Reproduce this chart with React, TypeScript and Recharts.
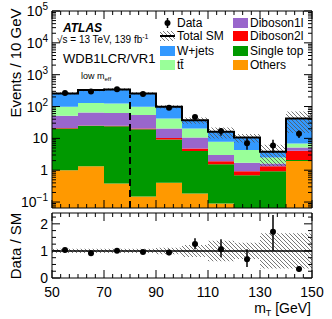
import { ComposedChart, Area, Line, Scatter, ErrorBar, XAxis, YAxis, ReferenceLine } from 'recharts';

// bins of m_T [GeV]
const binEdges = [50, 60, 70, 80, 90, 100, 110, 120, 130, 140, 150];
const binCenters = [55, 65, 75, 85, 95, 105, 115, 125, 135, 145];

// background processes, stacked bottom -> top
const others = [1.0, 1.34, 0.38, 0.15, 0.4, 0.185, 0.09, 0.04, 0.03, 1.95];
const singleTop = [19.5, 23.4, 23.6, 19.35, 8.8, 3.8, 1.46, 0.66, 0.9, 0.15];
const diboson2l = [0.8, 0.8, 1.0, 1.0, 1.1, 0.8, 0.35, 0.23, 0.41, 1.95];
const diboson1l = [29.7, 39.5, 38, 33.5, 10.2, 5.8, 1.1, 0.77, 0.28, 1.15];
const ttbar = [47, 65, 62, 44, 21.5, 9.9, 4.8, 2.6, 0.88, 1.7];
const wjets = [160, 198, 220, 160, 56, 16.5, 8.2, 6.3, 1.3, 35.1];
const sysUnc = [0.08, 0.08, 0.08, 0.08, 0.12, 0.22, 0.38, 0.3, 0.65, 0.65];

// data
const dataCounts = [266, 298, 348, 248, 92, 47, 17, 7, 6, 14];
const dataErrLow = [16, 17, 19, 16, 10, 7, 5, 2.6, 2.5, 3.7];
const dataErrHigh = [16, 17, 19, 16, 10, 7, 4, 3, 3, 3.7];
const ratio = [1.03, 0.91, 1.01, 0.96, 0.94, 1.26, 1.06, 0.69, 1.71, 0.33];
const ratioErrLow = [0.06, 0.06, 0.06, 0.06, 0.1, 0.2, 0.29, 0.28, 0.7, 0.1];
const ratioErrHigh = [0.06, 0.06, 0.06, 0.06, 0.1, 0.21, 0.37, 0.37, 0.62, 0.1];

const layers = [
  { key: 'others', name: 'Others', color: '#ff9900', values: others },
  { key: 'singleTop', name: 'Single top', color: '#009900', values: singleTop },
  { key: 'diboson2l', name: 'Diboson2l', color: '#ff0000', values: diboson2l },
  { key: 'diboson1l', name: 'Diboson1l', color: '#9966cc', values: diboson1l },
  { key: 'ttbar', name: 'tt\u0304', color: '#99ff99', values: ttbar },
  { key: 'wjets', name: 'W+jets', color: '#3399ff', values: wjets },
];

const YMIN = 0.065;
const YMAX = 100000;
const FONT = "'Liberation Sans', Arial, Helvetica, sans-serif";

const rows = binEdges.map((x, i) => {
  const b = Math.min(i, binCenters.length - 1);
  const row: any = { x };
  let cum = 0;
  layers.forEach((l) => {
    const lo = cum;
    cum += l.values[b];
    row[l.key] = [Math.max(lo, YMIN), Math.max(cum, YMIN)];
  });
  row.total = cum;
  row.band = [cum * (1 - sysUnc[b]), cum * (1 + sysUnc[b])];
  row.rband = [1 - sysUnc[b], 1 + sysUnc[b]];
  return row;
});

const dataPts = binCenters.map((x, i) => ({ x, y: dataCounts[i], err: [dataErrLow[i], dataErrHigh[i]] }));
const ratioPts = binCenters.map((x, i) => ({ x, y: ratio[i], err: [ratioErrLow[i], ratioErrHigh[i]] }));

// axis ticks
const xTicks = Array.from({ length: 31 }, (_, k) => 50 + (k * 10) / 3);
const isXMajor = (v: number) => Math.abs((v - 50) / 20 - Math.round((v - 50) / 20)) < 1e-6;
const logTicks: number[] = [];
for (let e = -2; e <= 5; e++) {
  for (let m = 1; m <= 9; m++) {
    const v = m * Math.pow(10, e);
    if (v >= YMIN && v <= YMAX * 1.0001) logTicks.push(v);
  }
}
const isLogMajor = (v: number) => {
  const l = Math.log10(v);
  return Math.abs(l - Math.round(l)) < 1e-6;
};
const rTicks = Array.from({ length: 10 }, (_, k) => k * 0.25);
const isRMajor = (v: number) => Math.abs(v - Math.round(v)) < 1e-6;

const xTick = (side: 'top' | 'bottom', label: boolean) => (p: any) => {
  const v = p.payload.value;
  const major = isXMajor(v);
  const len = major ? 8 : 4;
  const dir = side === 'bottom' ? -1 : 1;
  return (
    <g>
      <line x1={p.x} x2={p.x} y1={p.y} y2={p.y + dir * len} stroke="#000" strokeWidth={1} />
      {label && major && (
        <text x={p.x} y={p.y + 19} textAnchor="middle" fontSize={14} fontFamily={FONT} fill="#000">
          {Math.round(v)}
        </text>
      )}
    </g>
  );
};

const logLabel = (v: number) => {
  const e = Math.round(Math.log10(v));
  if (e === 0) return '1';
  if (e === 1) return '10';
  return (
    <>
      10
      <tspan dy={-6} fontSize={10}>
        {e < 0 ? '\u2212' + Math.abs(e) : e}
      </tspan>
    </>
  );
};

const yTick = (side: 'left' | 'right', kind: 'log' | 'ratio', label: boolean) => (p: any) => {
  const v = p.payload.value;
  const major = kind === 'log' ? isLogMajor(v) : isRMajor(v);
  const len = major ? 8 : 4;
  const dir = side === 'left' ? 1 : -1;
  return (
    <g>
      <line x1={p.x} x2={p.x + dir * len} y1={p.y} y2={p.y} stroke="#000" strokeWidth={1} />
      {label && major && (
        <text x={p.x - 4} y={p.y + 5} textAnchor="end" fontSize={14} fontFamily={FONT} fill="#000">
          {kind === 'log' ? logLabel(v) : Math.round(v)}
        </text>
      )}
    </g>
  );
};

const axisLine = { stroke: '#000', strokeWidth: 1 };

const hatchDefs = (id: string) => (
  <defs>
    <pattern id={id} patternUnits="userSpaceOnUse" width={4} height={4}>
      <path d="M-1,-1 L5,5 M-1,3 L1,5 M3,-1 L5,1" stroke="#555" strokeWidth={0.8} />
    </pattern>
  </defs>
);

function frameAxes(kind: 'log' | 'ratio', bottomLabels: boolean) {
  const yDomain = kind === 'log' ? [YMIN, YMAX] : [0, 2.4];
  const yTicksArr = kind === 'log' ? logTicks : rTicks;
  const scale = kind === 'log' ? 'log' : 'linear';
  return [
    <XAxis key="xb" xAxisId={0} dataKey="x" type="number" domain={[50, 150]} allowDataOverflow ticks={xTicks}
      interval={0} tickSize={0} tickMargin={0} tickLine={false} axisLine={axisLine} height={1}
      tick={xTick('bottom', bottomLabels)} />,
    <XAxis key="xt" xAxisId="top" orientation="top" dataKey="x" type="number" domain={[50, 150]} allowDataOverflow
      ticks={xTicks} interval={0} tickSize={0} tickMargin={0} tickLine={false} axisLine={axisLine} height={1}
      tick={xTick('top', false)} />,
    <YAxis key="yl" yAxisId={0} type="number" scale={scale} domain={yDomain} allowDataOverflow ticks={yTicksArr}
      interval={0} tickSize={0} tickMargin={0} tickLine={false} axisLine={axisLine} width={52}
      tick={yTick('left', kind, true)} />,
    <YAxis key="yr" yAxisId="right" orientation="right" type="number" scale={scale} domain={yDomain} allowDataOverflow
      ticks={yTicksArr} interval={0} tickSize={0} tickMargin={0} tickLine={false} axisLine={axisLine} width={1}
      tick={yTick('right', kind, false)} />,
  ];
}

const dot = (p: any) => <circle cx={p.cx} cy={p.cy} r={3} fill="#000" />;

function MainPanel() {
  return (
    <ComposedChart width={332} height={212} data={rows} margin={{ top: 10, right: 19, bottom: 3, left: 0 }}>
      {hatchDefs('hatchMain')}
      {frameAxes('log', false)}
      {layers.map((l) => (
        <Area key={l.key} dataKey={l.key} type="stepAfter" fill={l.color} fillOpacity={1} stroke="none"
          dot={false} activeDot={false} isAnimationActive={false} />
      ))}
      <Area dataKey="band" type="stepAfter" fill="url(#hatchMain)" fillOpacity={1} stroke="none"
        dot={false} activeDot={false} isAnimationActive={false} />
      <Line dataKey="total" type="stepAfter" stroke="#000" strokeWidth={2} dot={false} activeDot={false}
        isAnimationActive={false} />
      <ReferenceLine segment={[{ x: 80, y: YMIN }, { x: 80, y: 230 }]} stroke="#000" strokeWidth={2}
        strokeDasharray="7 4" />
      <Scatter data={dataPts} dataKey="y" shape={dot} isAnimationActive={false}>
        <ErrorBar dataKey="err" direction="y" width={0} stroke="#000" strokeWidth={1.5} />
      </Scatter>
    </ComposedChart>
  );
}

function RatioPanel() {
  return (
    <ComposedChart width={332} height={111} data={rows} margin={{ top: 4, right: 19, bottom: 40, left: 0 }}>
      {hatchDefs('hatchRatio')}
      {frameAxes('ratio', true)}
      <Area dataKey="rband" type="stepAfter" fill="url(#hatchRatio)" fillOpacity={1} stroke="none"
        dot={false} activeDot={false} isAnimationActive={false} />
      <ReferenceLine y={1} stroke="#000" strokeWidth={1.5} />
      <Scatter data={ratioPts} dataKey="y" shape={dot} isAnimationActive={false}>
        <ErrorBar dataKey="err" direction="y" width={0} stroke="#000" strokeWidth={1.5} />
      </Scatter>
    </ComposedChart>
  );
}

const legendLeft = ['Data', 'Total SM', 'W+jets', 'tt\u0304'];
const legendRight = ['Diboson1l', 'Diboson2l', 'Single top', 'Others'];
const legendRows = [23, 36, 51, 65];

function Overlay() {
  const colorOf = (name: string) => layers.find((l) => l.name === name)?.color ?? '#000';
  return (
    <svg width={332} height={319} style={{ position: 'absolute', left: 0, top: 0, pointerEvents: 'none' }}
      fontFamily={FONT}>
      {hatchDefs('hatchLegend')}
      <text x={63} y={32} fontSize={12} fontWeight="bold" fontStyle="italic">ATLAS</text>
      <text x={57} y={43} fontSize={10}>
        √s = 13 TeV, 139 fb<tspan dy={-4} fontSize={7}>-1</tspan>
      </text>
      <text x={63} y={63} fontSize={13}>WDB1LCR/VR1</text>
      <text x={81} y={79} fontSize={9}>
        low m<tspan dy={2} fontSize={6}>eff</tspan>
      </text>

      {legendLeft.map((name, i) => {
        const cy = legendRows[i];
        let marker;
        if (name === 'Data') {
          marker = (
            <g>
              <line x1={167.5} x2={167.5} y1={cy - 5} y2={cy + 5} stroke="#000" strokeWidth={1.5} />
              <circle cx={167.5} cy={cy} r={3} fill="#000" />
            </g>
          );
        } else if (name === 'Total SM') {
          marker = (
            <g>
              <rect x={160} y={cy - 5} width={15} height={10} fill="url(#hatchLegend)" />
              <line x1={160} x2={175} y1={cy} y2={cy} stroke="#000" strokeWidth={2} />
            </g>
          );
        } else {
          marker = <rect x={160} y={cy - 5} width={15} height={10} fill={colorOf(name)} />;
        }
        return (
          <g key={name}>
            {marker}
            <text x={177} y={cy + 4} fontSize={12}>{name}</text>
          </g>
        );
      })}
      {legendRight.map((name, i) => {
        const cy = legendRows[i];
        return (
          <g key={name}>
            <rect x={233} y={cy - 5} width={15} height={10} fill={colorOf(name)} />
            <text x={250} y={cy + 4} fontSize={12}>{name}</text>
          </g>
        );
      })}

      <text transform="translate(21,63) rotate(-90)" textAnchor="middle" fontSize={15}>Events / 10 GeV</text>
      <text transform="translate(21,246) rotate(-90)" textAnchor="middle" fontSize={15}>Data / SM</text>
      <text x={311} y={313} textAnchor="end" fontSize={14}>
        m<tspan dy={3} fontSize={9}>T</tspan>
        <tspan dy={-3}> [GeV]</tspan>
      </text>
    </svg>
  );
}

export default function App() {
  return (
    <div style={{ position: 'absolute', left: 0, top: 0, width: 332, height: 319, background: '#fff' }}>
      <div style={{ position: 'absolute', left: 0, top: 0 }}>
        <MainPanel />
      </div>
      <div style={{ position: 'absolute', left: 0, top: 208 }}>
        <RatioPanel />
      </div>
      <Overlay />
    </div>
  );
}
